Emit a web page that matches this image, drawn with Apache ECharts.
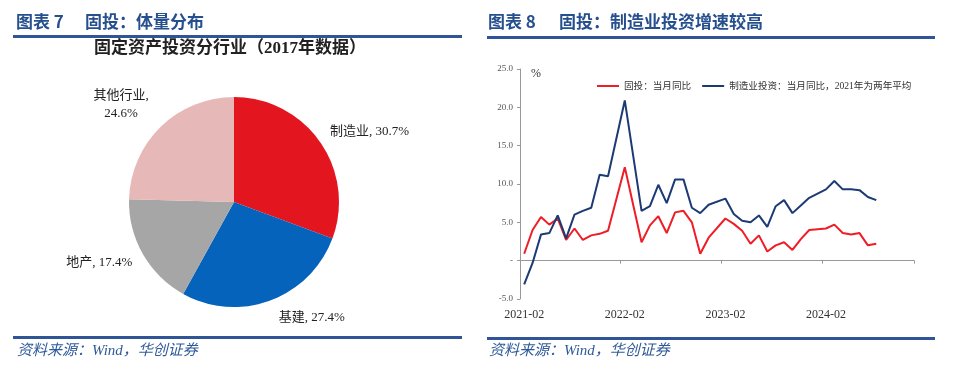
<!DOCTYPE html>
<html>
<head>
<meta charset="utf-8">
<script src="https://cdn.jsdelivr.net/npm/echarts@6/dist/echarts.min.js"></script>
<style>
html,body{margin:0;padding:0;background:#fff;}
#c{width:960px;height:371px;}
</style>
</head>
<body>
<div id="c"></div>
<script>
// ---- Pie data (2017) ----
var pieNames = ['制造业', '基建', '地产', '其他行业'];
var pieValues = [30.7, 27.4, 17.4, 24.6];
var pieColors = ['#E3161F', '#0563BB', '#A6A6A6', '#E6B8B7'];

// ---- Line chart data ----
var months = [
  '2021-02','2021-03','2021-04','2021-05','2021-06','2021-07','2021-08','2021-09','2021-10','2021-11','2021-12',
  '2022-01','2022-02','2022-03','2022-04','2022-05','2022-06','2022-07','2022-08','2022-09','2022-10','2022-11','2022-12',
  '2023-01','2023-02','2023-03','2023-04','2023-05','2023-06','2023-07','2023-08','2023-09','2023-10','2023-11','2023-12',
  '2024-01','2024-02','2024-03','2024-04','2024-05','2024-06','2024-07','2024-08','2024-09','2024-10','2024-11','2024-12'
];
var faiYoY = [
  0.9, 4.0, 5.7, 4.7, 5.5, 2.7, 4.2, 2.7, 3.3, 3.5, 3.9,
  null, 12.2, 7.3, 2.4, 4.6, 5.8, 3.6, 6.3, 6.5, 5.0, 0.9, 3.0,
  null, 5.5, 4.8, 3.9, 2.2, 3.3, 1.2, 2.0, 2.4, 1.4, 2.8, 4.0,
  null, 4.2, 4.7, 3.6, 3.4, 3.6, 2.0, 2.2, null, null, null, null
];
var mfgYoY = [
  -3.1, -0.3, 3.4, 3.6, 5.9, 2.9, 6.0, 6.5, 6.9, 11.2, 11.0,
  null, 20.9, 13.7, 6.5, 7.1, 9.9, 7.5, 10.6, 10.6, 6.9, 6.2, 7.3,
  null, 8.1, 6.1, 5.2, 5.0, 5.9, 4.4, 7.1, 7.9, 6.2, 7.2, 8.2,
  null, 9.3, 10.4, 9.3, 9.3, 9.2, 8.3, 7.9, null, null, null, null
];
var seriesNames = ['固投：当月同比', '制造业投资：当月同比，2021年为两年平均'];
var yMin = -5, yMax = 25, yStep = 5;

var SERIF = '"Liberation Serif", "Noto Sans CJK SC", serif';
var CJK = '"Noto Sans CJK SC", sans-serif';
var TITLE_BLUE = '#264F8E';
var RULE_BLUE = '#2F5597';

var pieData = pieNames.map(function (n, i) {
  var item = { name: n, value: pieValues[i], itemStyle: { color: pieColors[i] } };
  if (i === 1) { item.label = { distanceToLabelLine: 2 }; }
  if (i === 3) {
    item.labelLine = { length: 31 };
    item.label = { distanceToLabelLine: -13,
      formatter: '{a|' + n + ',}\n{a|' + pieValues[i].toFixed(1) + '%}' };
  }
  return item;
});

var chart = echarts.init(document.getElementById('c'), null, { renderer: 'canvas' });
chart.setOption({
  animation: false,
  backgroundColor: '#fff',
  graphic: [
    { type: 'text', left: 16, top: 13, style: { text: '图表 7', font: 'bold 17px ' + CJK, fill: TITLE_BLUE } },
    { type: 'text', left: 85, top: 13, style: { text: '固投：体量分布', font: 'bold 17px ' + CJK, fill: TITLE_BLUE } },
    { type: 'text', left: 488, top: 13, style: { text: '图表 8', font: 'bold 17px ' + CJK, fill: TITLE_BLUE } },
    { type: 'text', left: 559, top: 13, style: { text: '固投：制造业投资增速较高', font: 'bold 17px ' + CJK, fill: TITLE_BLUE } },
    { type: 'rect', shape: { x: 13, y: 35, width: 449, height: 3 }, style: { fill: RULE_BLUE } },
    { type: 'rect', shape: { x: 487, y: 36, width: 448, height: 3 }, style: { fill: RULE_BLUE } },
    { type: 'rect', shape: { x: 13, y: 336, width: 449, height: 3 }, style: { fill: RULE_BLUE } },
    { type: 'rect', shape: { x: 487, y: 337, width: 448, height: 3 }, style: { fill: RULE_BLUE } },
    { type: 'text', left: 17, top: 344, style: { text: '资料来源：Wind，华创证券', font: 'italic 15px ' + SERIF, fill: '#2F5A9A' } },
    { type: 'text', left: 489, top: 344, style: { text: '资料来源：Wind，华创证券', font: 'italic 15px ' + SERIF, fill: '#2F5A9A' } },
    { type: 'text', x: 230, y: 49, style: { text: '固定资产投资分行业（2017年数据）', font: 'bold 17px ' + SERIF, fill: '#222', align: 'center', verticalAlign: 'middle' } },
    { type: 'text', x: 531, y: 74, style: { text: '%', font: '12px ' + SERIF, fill: '#333', verticalAlign: 'middle' } }
  ],
  legend: {
    left: 592, top: 75,
    icon: 'rect',
    itemWidth: 22, itemHeight: 2, itemGap: 11,
    textStyle: { fontSize: 9.6, fontFamily: SERIF, color: '#333', lineHeight: 12 },
    data: seriesNames
  },
  grid: { left: 520, right: 46, top: 69, bottom: 72, containLabel: false },
  xAxis: [
    {
      type: 'category', data: months, boundaryGap: true,
      axisLine: { onZero: true, lineStyle: { color: '#999', width: 1 } },
      axisTick: { show: true, length: 3, interval: function (i) { return i % 12 === 0; }, lineStyle: { color: '#999' } },
      axisLabel: { show: false }
    },
    {
      type: 'category', data: months, boundaryGap: true, position: 'bottom',
      axisLine: { show: false, onZero: false },
      axisTick: { show: false },
      axisLabel: { interval: 11, margin: 10, fontSize: 12, fontFamily: SERIF, color: '#333' }
    }
  ],
  yAxis: {
    type: 'value', min: yMin, max: yMax, interval: yStep,
    axisLine: { show: true, lineStyle: { color: '#999' } },
    axisTick: { show: true, length: 3, lineStyle: { color: '#999' } },
    splitLine: { show: false },
    axisLabel: {
      fontSize: 9, fontFamily: SERIF, color: '#555', margin: 7,
      formatter: function (v) { return v === 0 ? '-' : v.toFixed(1); }
    }
  },
  series: [
    {
      type: 'pie', center: [234, 202], radius: 105, startAngle: 90, clockwise: true,
      data: pieData,
      label: {
        show: true, position: 'outside', alignTo: 'none', distanceToLabelLine: -5,
        formatter: function (p) { return p.name + ', ' + p.value.toFixed(1) + '%'; },
        fontSize: 13, fontFamily: SERIF, color: '#222',
        rich: { a: { width: 62, align: 'center', fontSize: 13, fontFamily: SERIF, color: '#222', lineHeight: 18 } }
      },
      labelLine: { show: false, length: 18, length2: 0 },
      emphasis: { disabled: true }
    },
    {
      name: seriesNames[0], type: 'line', xAxisIndex: 0, yAxisIndex: 0,
      data: faiYoY, connectNulls: true, symbol: 'none',
      lineStyle: { color: '#EE1D26', width: 2 }, itemStyle: { color: '#EE1D26' }
    },
    {
      name: seriesNames[1], type: 'line', xAxisIndex: 0, yAxisIndex: 0,
      data: mfgYoY, connectNulls: true, symbol: 'none',
      lineStyle: { color: '#1C3A73', width: 2 }, itemStyle: { color: '#1C3A73' }
    }
  ]
});
</script>
</body>
</html>
